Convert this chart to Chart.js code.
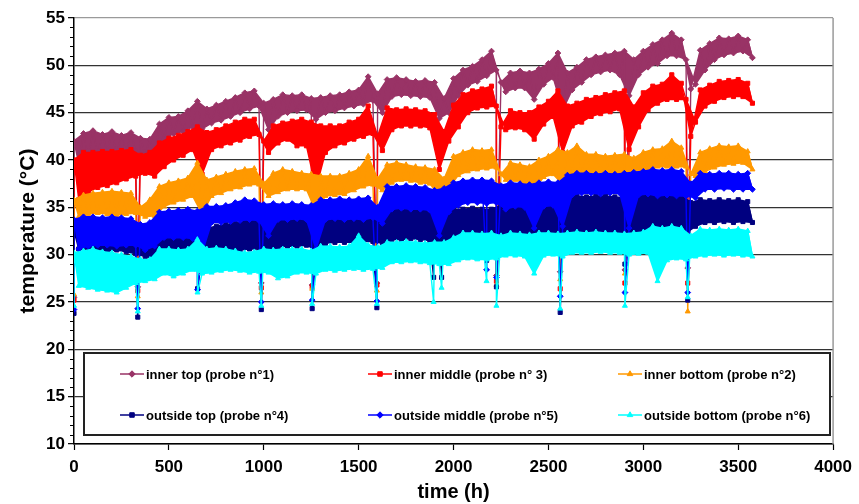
<!DOCTYPE html>
<html>
<head>
<meta charset="utf-8">
<script src="https://cdn.jsdelivr.net/npm/chart.js@4.4.0/dist/chart.umd.min.js"></script>
<style>
html,body{margin:0;padding:0;background:#fff;}
#wrap{width:859px;height:504px;position:relative;}
</style>
</head>
<body>
<div id="wrap"><canvas id="c" width="859" height="504"></canvas></div>
<script>
// ---- sample times (h) ----
const hoursHi = [0,50,100,150,200,250,300,350,400,450,500,550,600,650,700,750,800,850,900,950,1000,1050,1100,1150,1200,1250,1300,1350,1400,1450,1500,1550,1600,1650,1700,1750,1800,1850,1900,1950,2000,2050,2100,2150,2200,2250,2300,2350,2400,2450,2500,2550,2600,2650,2700,2750,2800,2850,2900,2950,3000,3050,3100,3150,3200,3250,3300,3350,3400,3450,3500,3550];
const hoursLo = [25,75,125,175,225,275,325,375,425,475,525,575,625,675,725,775,825,875,925,975,1025,1075,1125,1175,1225,1275,1325,1375,1425,1475,1525,1575,1625,1675,1725,1775,1825,1875,1925,1975,2025,2075,2125,2175,2225,2275,2325,2375,2425,2475,2525,2575,2625,2675,2725,2775,2825,2875,2925,2975,3025,3075,3125,3175,3225,3275,3325,3375,3425,3475,3525,3575];
// probe restarts (short drops)
const dipHours = [0,336,651,987,1255,1596,1895,1937,2174,2226,2562,2903,3234];

const seriesLabels = ['inner top (probe n°1)','inner middle (probe n° 3)','inner bottom (probe n°2)','outside top (probe n°4)','outside middle (probe n°5)','outside bottom (probe n°6)'];

// inner top (probe 1)
const innerTopHi = [42.0,42.8,43.1,42.7,43.0,42.6,42.9,42.3,42.2,43.8,44.5,44.6,45.2,46.2,45.4,45.8,46.2,46.6,47.1,47.3,46.0,46.4,46.9,46.8,46.9,46.5,46.6,46.8,46.9,47.2,47.4,48.8,47.0,48.5,48.7,48.5,48.3,48.4,48.2,46.5,48.6,49.5,49.9,50.6,51.5,48.2,49.2,49.4,49.2,49.6,50.2,51.3,49.2,49.8,50.6,50.9,51.1,51.3,51.5,50.6,51.5,52.2,52.7,53.4,52.7,47.5,51.6,52.3,52.9,52.8,53.1,52.7];
const innerTopLo = [39.6,40.3,40.6,40.8,40.5,40.7,40.9,40.6,40.3,42.2,42.8,43.0,43.5,43.3,43.9,44.2,44.6,45.0,45.4,45.7,43.2,44.6,45.0,45.2,45.3,44.3,45.0,45.2,45.5,45.7,45.9,46.3,45.0,46.7,46.9,46.8,46.7,46.6,44.4,45.0,46.8,47.9,48.3,48.9,49.5,47.2,47.6,47.6,46.4,48.0,48.7,45.3,47.4,48.2,49.0,49.3,49.5,49.0,46.8,49.0,49.8,50.2,51.0,51.0,50.6,48.0,49.5,50.6,51.1,51.3,51.5,50.8];
const innerTopDip = [25.5,26.6,null,27.0,26.8,27.0,null,null,null,27.8,28.2,28.4,28.6];

// inner middle (probe 3)
const innerMidHi = [40.0,40.8,40.8,40.9,40.9,41.0,41.1,40.5,40.8,41.8,42.3,42.6,43.0,43.5,42.9,43.2,43.6,44.0,44.3,44.3,42.0,43.6,43.9,44.1,44.3,44.0,43.6,43.6,43.6,44.0,44.3,45.7,42.5,45.5,45.3,45.4,45.3,45.2,44.8,43.0,45.8,46.9,47.3,47.5,47.8,43.5,45.2,45.0,45.0,45.6,46.2,47.3,45.7,46.0,46.4,46.6,46.9,47.1,47.3,45.6,47.1,47.8,48.0,49.0,48.1,42.5,47.4,47.9,48.3,48.4,48.5,48.1];
const innerMidLo = [35.8,36.6,37.1,37.3,37.6,38.0,38.3,38.6,38.3,39.3,40.0,40.5,41.1,38.5,41.1,41.5,41.8,42.1,42.5,42.7,40.8,41.8,42.2,41.5,41.5,37.0,40.8,41.5,41.8,42.2,42.5,42.8,41.0,43.2,43.6,43.6,43.6,43.4,39.0,42.0,43.5,45.0,45.5,45.6,45.7,43.2,43.4,43.2,42.2,43.8,44.6,40.8,43.6,44.0,44.6,44.9,45.1,45.4,41.1,43.5,45.3,46.0,46.4,46.4,46.4,44.0,45.7,46.2,46.6,46.7,46.7,46.0];
const innerMidDip = [25.2,26.2,null,26.5,26.6,26.8,null,null,null,27.2,26.4,27.0,27.0];

// inner bottom (probe 2)
const innerBotHi = [35.8,36.3,36.5,36.6,36.7,36.6,36.5,35.0,35.8,37.2,37.6,37.8,38.1,39.7,37.9,38.2,38.5,38.8,39.0,39.1,37.5,38.6,39.0,38.8,38.6,38.5,38.3,38.3,38.3,38.6,39.0,40.4,38.0,39.5,39.7,39.5,39.3,39.2,39.0,38.0,40.4,40.8,41.1,41.0,41.1,38.5,39.7,39.5,39.3,40.0,40.4,41.1,40.8,41.5,40.6,40.6,40.4,40.5,40.6,40.2,40.8,41.1,41.2,42.0,41.3,38.5,40.8,41.2,41.5,41.4,41.5,40.9];
const innerBotLo = [34.0,34.3,34.4,34.3,34.2,34.3,34.4,34.0,34.1,35.1,35.5,35.8,36.2,34.3,36.2,36.5,36.9,37.1,37.4,37.4,36.2,36.6,36.9,36.9,36.9,34.6,36.2,36.3,36.4,36.8,37.2,37.4,36.8,37.6,37.9,37.8,37.6,37.5,36.2,37.0,38.4,38.8,39.0,39.1,39.2,37.9,37.9,37.6,36.9,38.2,38.5,37.4,38.3,38.6,38.6,38.6,38.6,38.6,37.6,38.6,39.0,39.3,39.3,39.3,39.3,38.3,38.8,39.2,39.5,39.6,39.7,39.0];
const innerBotDip = [25.8,25.6,null,26.0,26.4,26.2,null,null,null,26.8,27.4,28.0,24.0];

// outside top (probe 4)
const outTopHi = [32.5,32.8,33.0,32.8,32.9,32.6,32.5,32.0,31.6,32.2,32.0,32.2,32.5,32.6,32.8,33.0,33.2,33.3,33.5,33.6,33.2,33.5,33.7,33.6,33.7,33.5,33.8,34.0,34.1,34.0,34.1,34.2,33.5,34.6,34.8,34.7,34.8,34.6,34.3,34.5,34.8,34.8,34.9,34.8,34.8,35.2,35.6,35.5,35.4,35.6,35.8,35.7,36.0,36.2,36.1,36.2,36.2,36.1,36.0,36.3,36.5,36.5,36.4,36.5,36.3,35.5,35.8,35.7,35.8,35.7,35.8,35.6];
const outTopLo = [30.6,30.5,30.6,30.4,30.5,30.3,30.1,29.8,29.6,29.8,29.7,29.8,30.0,29.8,30.2,30.3,30.4,30.5,30.6,30.6,30.4,30.8,30.9,30.9,31.0,30.5,31.2,31.3,31.3,31.3,31.4,31.4,31.2,31.6,31.6,31.7,31.6,31.5,31.3,31.6,31.6,31.7,31.7,31.6,31.6,31.3,31.4,31.4,31.2,31.5,31.6,31.8,32.3,32.4,32.3,32.4,32.3,32.4,32.2,32.3,32.3,32.3,32.4,32.3,32.3,33.0,33.4,33.4,33.5,33.4,33.5,33.4];
const outTopDip = [23.8,23.4,26.4,24.2,24.3,24.4,27.6,27.6,29.4,26.6,23.9,29.0,25.2];

// outside middle (probe 5)
const outMidHi = [33.7,34.0,34.0,33.9,34.0,33.9,33.8,33.2,33.4,34.5,34.6,34.7,34.8,34.6,35.1,35.1,35.2,35.5,35.8,35.7,35.3,35.4,35.3,35.4,35.3,35.2,35.8,35.8,35.9,35.8,35.9,36.0,35.0,37.2,37.2,37.3,37.2,37.1,36.8,37.0,37.6,37.8,37.9,37.9,37.8,37.3,37.6,37.5,37.4,37.6,37.7,37.6,38.4,38.6,38.6,38.5,38.6,38.5,38.6,38.7,38.8,39.0,38.9,39.0,38.8,37.5,38.6,38.5,38.6,38.6,38.5,38.6];
const outMidLo = [30.6,30.9,31.0,31.0,30.9,31.0,31.0,30.5,30.9,31.8,31.8,31.8,31.7,30.2,33.4,33.4,33.5,33.6,33.7,33.6,32.0,33.7,33.7,33.8,33.7,30.6,33.7,33.8,33.7,33.8,33.7,33.9,33.3,34.8,34.9,34.8,34.8,34.7,32.0,34.5,35.2,35.5,35.5,35.4,35.5,34.8,35.1,35.0,32.8,35.1,35.2,33.0,36.3,36.5,36.5,36.4,36.5,36.5,32.8,36.3,36.4,36.2,36.3,36.2,36.2,36.0,36.9,36.9,37.0,36.9,36.9,36.9];
const outMidDip = [24.2,24.3,26.3,25.0,25.2,25.1,null,null,28.4,27.6,25.6,26.0,26.0];

// outside bottom (probe 6)
const outBotHi = [30.2,30.4,30.6,30.3,30.2,30.0,29.8,29.5,29.5,30.6,30.6,30.5,30.6,31.6,30.6,30.7,30.6,30.4,30.2,30.3,30.6,30.5,30.6,30.6,30.6,30.4,30.9,30.9,30.8,30.9,32.0,31.0,30.8,31.3,31.3,31.4,31.3,31.2,31.3,31.3,31.8,32.3,32.3,32.2,32.3,32.0,32.3,32.2,32.1,32.3,32.3,32.2,32.3,32.4,32.3,32.4,32.3,32.3,32.2,32.3,32.4,33.0,32.8,33.0,32.8,32.0,32.7,32.6,32.7,32.6,32.7,32.5];
const outBotLo = [26.7,26.5,26.3,26.2,26.0,26.5,27.0,27.2,27.4,28.0,27.7,28.0,28.4,28.0,28.1,28.3,28.4,28.3,28.1,28.2,28.1,27.5,27.7,28.1,28.1,28.0,28.4,28.3,28.4,28.5,28.4,28.5,28.6,29.2,29.2,29.3,29.2,29.1,29.0,29.0,29.4,29.6,29.5,29.5,29.6,29.9,29.9,29.8,28.0,29.9,30.0,29.8,30.2,30.2,30.2,30.3,30.2,30.2,30.0,30.1,30.2,27.2,29.4,29.6,29.5,29.8,29.9,30.0,29.9,30.0,29.9,29.8];
const outBotDip = [24.6,24.0,26.0,24.6,24.8,24.8,25.0,26.5,27.2,24.6,24.3,24.6,25.5];

// axis ticks
const xTicks = [0,500,1000,1500,2000,2500,3000,3500,4000];
const yTicks = [10,15,20,25,30,35,40,45,50,55];

const FONT = "Arial, 'Liberation Sans', Helvetica, sans-serif";
const colors = ['#993366','#FF0000','#FF9900','#000080','#0000FF','#00FFFF'];
const styles = ['rectRot','rect','triangle','rect','rectRot','triangle'];

const raw = [
  [innerTopHi, innerTopLo, innerTopDip],
  [innerMidHi, innerMidLo, innerMidDip],
  [innerBotHi, innerBotLo, innerBotDip],
  [outTopHi, outTopLo, outTopDip],
  [outMidHi, outMidLo, outMidDip],
  [outBotHi, outBotLo, outBotDip]
];

function mainSeries(hi, lo, dip) {
  const pts = [];
  dipHours.forEach((h, j) => { if (dip[j] !== null) pts.push({x: h, y: dip[j], dip: true}); });
  hi.forEach((v, i) => { pts.push({x: hoursHi[i], y: v}); pts.push({x: hoursLo[i], y: lo[i]}); });
  pts.sort((a, b) => a.x - b.x);
  return pts;
}

// band outline: upper envelope forward, lower envelope backward (one closed polygon)
function bandPolygon(hi, lo) {
  const pts = hi.map((v, k) => ({x: hoursHi[k], y: v}));
  for (let k = lo.length - 1; k >= 0; k--) pts.push({x: hoursLo[k], y: lo[k]});
  return pts;
}

const datasets = [];
raw.forEach((r, i) => {
  const base = (5 - i) * 2;
  datasets.push({
    label: seriesLabels[i] + ' band',
    data: bandPolygon(r[0], r[1]),
    borderColor: colors[i], borderWidth: 1.5, borderJoinStyle: 'round',
    pointRadius: 0, tension: 0,
    backgroundColor: colors[i],
    fill: false,
    band: true,
    order: base + 1
  });
  datasets.push({
    label: seriesLabels[i],
    data: mainSeries(r[0], r[1], r[2]),
    borderColor: colors[i], backgroundColor: colors[i],
    pointBackgroundColor: colors[i], pointBorderColor: colors[i],
    pointStyle: styles[i], pointRadius: 2.9, pointBorderWidth: 1,
    borderWidth: 1.4, borderJoinStyle: 'round', tension: 0, fill: false,
    order: base
  });
});

const legendItems = [1, 3, 5, 7, 9, 11];

// closes and fills each band polygon right before its dataset is drawn
const bandPlugin = {
  id: 'bandFill',
  beforeDatasetDraw(chart, args) {
    const ds = chart.data.datasets[args.index];
    if (!ds.band) return;
    const meta = args.meta, ctx = chart.ctx, a = chart.chartArea;
    ctx.save();
    ctx.beginPath();
    ctx.rect(a.left, a.top, a.width, a.height);
    ctx.clip();
    ctx.beginPath();
    meta.data.forEach((p, k) => { if (k === 0) ctx.moveTo(p.x, p.y); else ctx.lineTo(p.x, p.y); });
    ctx.closePath();
    ctx.fillStyle = ds.backgroundColor;
    ctx.fill('nonzero');
    ctx.restore();
  }
};

const extrasPlugin = {
  id: 'extras',
  beforeDatasetsDraw(chart) {
    const ctx = chart.ctx, a = chart.chartArea;
    ctx.save();
    ctx.strokeStyle = '#9a9a9a';
    ctx.lineWidth = 1.5;
    ctx.beginPath();
    ctx.moveTo(a.right, a.top);
    ctx.lineTo(a.right, a.bottom);
    ctx.stroke();
    ctx.restore();
  },
  afterDraw(chart) {
    const ctx = chart.ctx, ys = chart.scales.y, a = chart.chartArea;
    ctx.save();
    ctx.strokeStyle = '#000';
    ctx.lineWidth = 1;
    for (let v = ys.min; v <= ys.max; v++) {
      if (v % 5 === 0) continue;
      const y = Math.round(ys.getPixelForValue(v)) + 0.5;
      ctx.beginPath();
      ctx.moveTo(a.left - 4, y);
      ctx.lineTo(a.left, y);
      ctx.stroke();
    }
    const bx = 84, by = 353, bw = 746, bh = 82;
    ctx.fillStyle = '#fff';
    ctx.fillRect(bx, by, bw, bh);
    ctx.strokeStyle = '#222';
    ctx.lineWidth = 2;
    ctx.strokeRect(bx, by, bw, bh);
    const colX = [120, 368, 618];
    const rowY = [374, 415];
    ctx.font = 'bold 13px ' + FONT;
    ctx.textBaseline = 'middle';
    ctx.textAlign = 'left';
    legendItems.forEach((di, i) => {
      const ds = chart.data.datasets[di];
      const cx = colX[i % 3], cy = rowY[Math.floor(i / 3)];
      ctx.strokeStyle = colors[i];
      ctx.lineWidth = 1.5;
      ctx.beginPath();
      ctx.moveTo(cx, cy);
      ctx.lineTo(cx + 24, cy);
      ctx.stroke();
      ctx.fillStyle = colors[i];
      ctx.strokeStyle = colors[i];
      ctx.lineWidth = 1;
      Chart.helpers.drawPoint(ctx, {pointStyle: styles[i], radius: 3.2, rotation: 0, borderWidth: 1}, cx + 12, cy);
      ctx.fillStyle = '#000';
      ctx.fillText(ds.label, cx + 26, cy + 1);
    });
    ctx.restore();
  }
};

new Chart(document.getElementById('c'), {
  type: 'scatter',
  data: { datasets: datasets.map(d => Object.assign({showLine: true}, d)) },
  options: {
    responsive: false,
    animation: false,
    events: [],
    layout: { padding: { left: 0, right: 23, top: 18, bottom: 0 } },
    plugins: { legend: { display: false }, tooltip: { enabled: false } },
    scales: {
      x: {
        type: 'linear', min: 0, max: 4000,
        afterBuildTicks: s => { s.ticks = xTicks.map(v => ({value: v})); },
        ticks: { callback: v => String(v), font: { family: FONT, size: 17, weight: 'bold' }, color: '#000', padding: 7, maxRotation: 0, autoSkip: false },
        grid: { drawOnChartArea: false, tickLength: 6, tickColor: '#000', tickWidth: 1.2 },
        border: { color: '#000', width: 1.5 },
        title: { display: true, text: 'time (h)', color: '#000', font: { family: FONT, size: 20, weight: 'bold' }, padding: { top: 0, bottom: 0 } },
        afterFit: s => { s.height = 60; }
      },
      y: {
        type: 'linear', min: 10, max: 55,
        afterBuildTicks: s => { s.ticks = yTicks.map(v => ({value: v})); },
        ticks: { callback: v => String(v), font: { family: FONT, size: 17, weight: 'bold' }, color: '#000', padding: 3, autoSkip: false },
        grid: { color: c => (c.tick && c.tick.value === 55) ? '#9a9a9a' : '#333', lineWidth: 1.3, tickLength: 6, tickColor: '#000', tickWidth: 1.2 },
        border: { color: '#000', width: 1.5 },
        title: { display: true, text: 'temperature (°C)', color: '#000', font: { family: FONT, size: 21, weight: 'bold' }, padding: { top: 16, bottom: 0 } },
        afterFit: s => { s.width = 74; }
      }
    }
  },
  plugins: [bandPlugin, extrasPlugin]
});
</script>
</body>
</html>
